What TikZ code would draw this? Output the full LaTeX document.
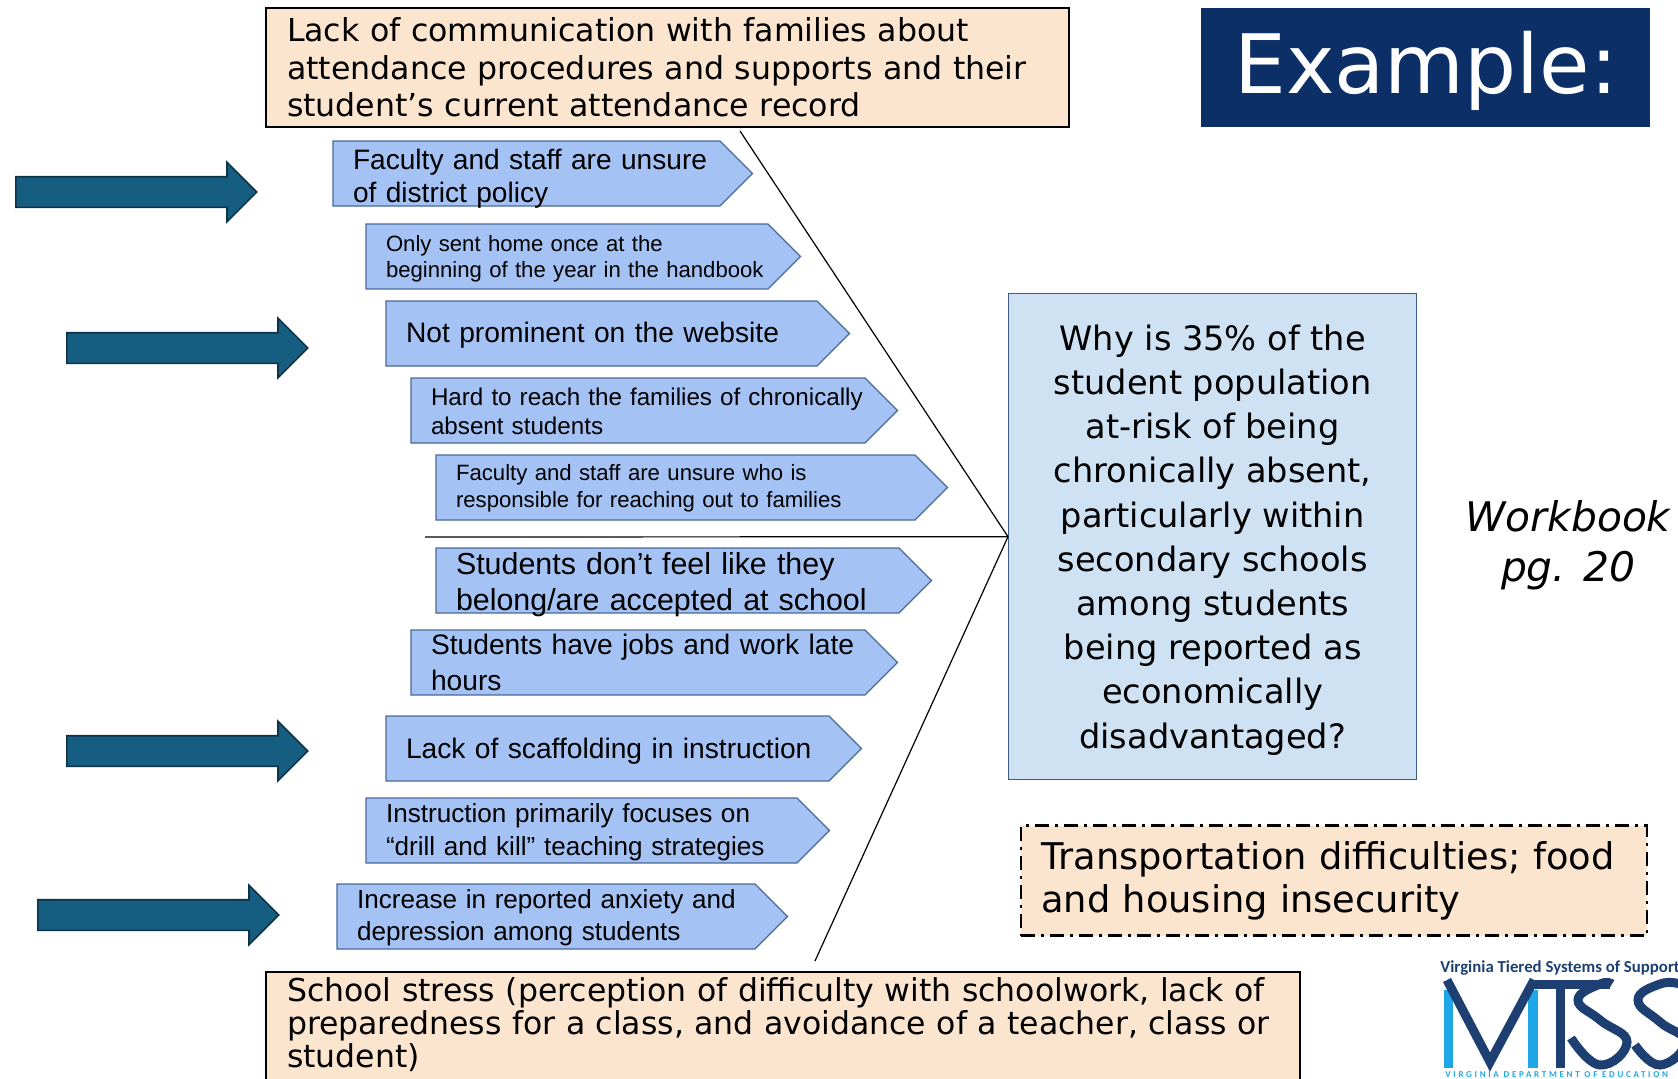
\documentclass[tikz,border=0pt]{standalone}
\usepackage{fontspec}
\setmainfont{DejaVu Sans}
\newfontfamily\causefont{Liberation Sans}
\newfontfamily\logofont{Carlito}
\newfontfamily\deptfont[LetterSpace=30]{Carlito}
\usepackage{tikz}
\usetikzlibrary{arrows,shapes,positioning}
\definecolor{causeblue}{HTML}{A4C2F4}
\definecolor{causeedge}{HTML}{4A6A96}
\definecolor{peach}{HTML}{FBE5CF}
\definecolor{paleblue}{HTML}{CFE2F3}
\definecolor{paleedge}{HTML}{3D5C80}
\definecolor{navy}{HTML}{0B2F66}
\definecolor{arrowteal}{HTML}{155E82}
\definecolor{arrowedge}{HTML}{0E3347}
\definecolor{logodark}{HTML}{1D3F72}
\definecolor{logolight}{HTML}{1EA6E6}
\tikzset{
  textdrop/.store in=\causedrop, textdrop=2.15pt,
  cause/.style={signal, signal to=east, signal from=nowhere, signal pointer angle=90,
    draw=causeedge, fill=causeblue, line width=0.6pt, minimum height=32.5pt, outer sep=0pt,
    inner xsep=0pt, inner ysep=0pt, text width=#1+20pt, align=left, text=black,
    execute at begin node={\leftskip=10pt\rule{0pt}{\dimexpr0.73em+\causedrop\relax}}},
  pointer/.style={single arrow, draw=arrowedge, fill=arrowteal, line width=0.8pt,
    inner xsep=0pt, inner ysep=7.25pt,
    minimum height=120.5pt, minimum width=29pt, single arrow head extend=7.25pt,
    anchor=west},
  category/.style={rectangle, draw=black, fill=peach, line width=1pt, align=left,
    inner xsep=10.5pt, inner ysep=2pt, anchor=north west},
  logobar/.style={line width=4.5pt, draw=logodark}
}
\newcommand{\causefs}[2]{\causefont\fontsize{#1}{#2}\selectfont}
\begin{document}
\begin{tikzpicture}[x=0.5pt, y=-0.5pt]
      \useasboundingbox (0,0) rectangle (1678,1078);

      \node[category, minimum height=59.5pt, text width=380.5pt,
        font=\fontsize{15.8}{18.7}\selectfont] (communication) [] at (265,7)
        {Lack of communication with families about\\attendance procedures and supports and their\\student’s current attendance record};
      \node[fill=navy, text=white, minimum width=224.5pt, minimum height=59.5pt, text depth=5pt,
        font=\fontsize{41}{46}\selectfont] (example) [right=65.5pt of communication] {Example:};

      \node[cause=173.5pt, font=\causefs{14.05}{16.5}] (policy) [anchor=north west] at (333,141) {Faculty and staff are unsure\\\smash{of district policy}};
      \node[cause=181pt, font=\causefs{11.06}{13.4}] (handbook) [below=9pt of policy.south west, anchor=north west, xshift=16.5pt] {Only sent home once at the\\beginning of the year in the handbook};
      \node[cause=195.5pt, textdrop=1.6pt, font=\causefs{14.1}{16.5}] (website) [below=6pt of handbook.south west, anchor=north west, xshift=10pt] {Not prominent on the website};
      \node[cause=207pt, textdrop=1.1pt, font=\causefs{12.1}{14.5}] (reach) [below=6pt of website.south west, anchor=north west, xshift=12.5pt] {Hard to reach the families of chronically\\absent students};
      \node[cause=219.5pt, textdrop=0.5pt, font=\causefs{11.08}{13.4}] (outreach) [below=6pt of reach.south west, anchor=north west, xshift=12.5pt] {Faculty and staff are unsure who is\\responsible for reaching out to families};
      \node[cause=211.5pt, textdrop=1.1pt, font=\causefs{15.2}{18}] (belong) [below=14pt of outreach.south west, anchor=north west] {Students don’t feel like they\\\smash{belong/are accepted at school}};
      \node[cause=207pt, textdrop=0pt, font=\causefs{14.1}{17.7}] (jobs) [below=8.5pt of belong.south west, anchor=north west, xshift=-12.5pt] {Students have jobs and work late\\hours};
      \node[cause=201.5pt, font=\causefs{14.1}{16.5}] (scaffold) [below=10.5pt of jobs.south west, anchor=north west, xshift=-12.5pt] {Lack of scaffolding in instruction};
      \node[cause=195.5pt, textdrop=1.6pt, font=\causefs{13.05}{16.6}] (drill) [below=8.5pt of scaffold.south west, anchor=north west, xshift=-10pt] {Instruction primarily focuses on\\“drill and kill” teaching strategies};
      \node[cause=189pt, textdrop=1.6pt, font=\causefs{13.05}{16}] (anxiety) [below=10.5pt of drill.south west, anchor=north west, xshift=-14.5pt] {Increase in reported anxiety and\\depression among students};

      \node[pointer] (arrow1) [] at (15,192) {};
      \node[pointer] (arrow2) [] at (66,348) {};
      \node[pointer] (arrow3) [] at (66,751) {};
      \node[pointer] (arrow4) [] at (37,915) {};

      \node[rectangle, draw=paleedge, fill=paleblue, line width=0.7pt, minimum width=204pt,
        minimum height=243pt, align=center, font=\fontsize{16.8}{22.1}\selectfont,
        anchor=north west] (question) [] at (1008,293)
        {\rule{0pt}{\dimexpr0.76em+3.2pt\relax}Why is 35\% of the\\student population\\at-risk of being\\chronically absent,\\particularly within\\secondary schools\\among students\\being reported as\\economically\\disadvantaged?};

      \coordinate (tophead) at (740,131);
      \coordinate (tail) at (425,537);
      \coordinate (lowhead) at (815,961);
      \draw[line width=0.6pt] (tophead) edge [] (question.west);
      \draw[line width=0.6pt] (tail) edge [] (question.west);
      \draw[line width=0.6pt] (lowhead) edge [] (question.west);

      \node[align=center, font=\itshape\fontsize{20.4}{25}\selectfont] (workbook) [] at (1568,545) {Workbook\\pg. 20};

      \node[category, draw=black, line width=1.2pt, dash pattern=on 7pt off 3pt on 1.5pt off 3pt, minimum height=55pt,
        text width=293pt, inner xsep=10pt, font=\fontsize{18.4}{21.5}\selectfont]
        (insecurity) [below=22pt of question.south west, anchor=north west, xshift=6pt]
        {Transportation difficulties; food\\and housing insecurity};

      \node[category, text width=496pt, inner xsep=10.5pt, inner ysep=3pt, text depth=50pt,
        font=\fontsize{15.75}{16.5}\selectfont] (stress) [] at (265,971)
        {School stress (perception of difficulty with schoolwork, lack of\\preparedness for a class, and avoidance of a teacher, class or\\student)};

      \node[inner sep=0pt, text=logodark, font=\logofont\bfseries\fontsize{8.4}{10}\selectfont] (logotitle) [anchor=west] at (1440,968) {Virginia Tiered Systems of Support};
      \fill[logolight] (1444,990) rectangle (1453,1068);
      \fill[logolight] (1528,990) rectangle (1538,1068);
      \draw[logobar, line join=miter] (1447,980) -- (1490,1062) -- (1534,980);
      \draw[logobar] (1530,984) -- (1610,984);
      \draw[logobar] (1560,984) -- (1560,1068);
      \draw[logobar] plot[smooth, tension=0.8] coordinates {(1571,1038) (1600,1065) (1627,1042) (1600,1020) (1578,1000) (1600,984) (1612,984)};
      \draw[logobar] plot[smooth, tension=0.8] coordinates {(1635,1045) (1660,1065) (1685,1042) (1660,1022) (1638,1000) (1660,984) (1680,984)};
      \node[inner sep=0pt, text=logolight, font=\deptfont\bfseries\fontsize{4.5}{5}\selectfont] (logodept) [anchor=west] at (1445,1075) {VIRGINIA DEPARTMENT OF EDUCATION};
    \end{tikzpicture}
\end{document}
